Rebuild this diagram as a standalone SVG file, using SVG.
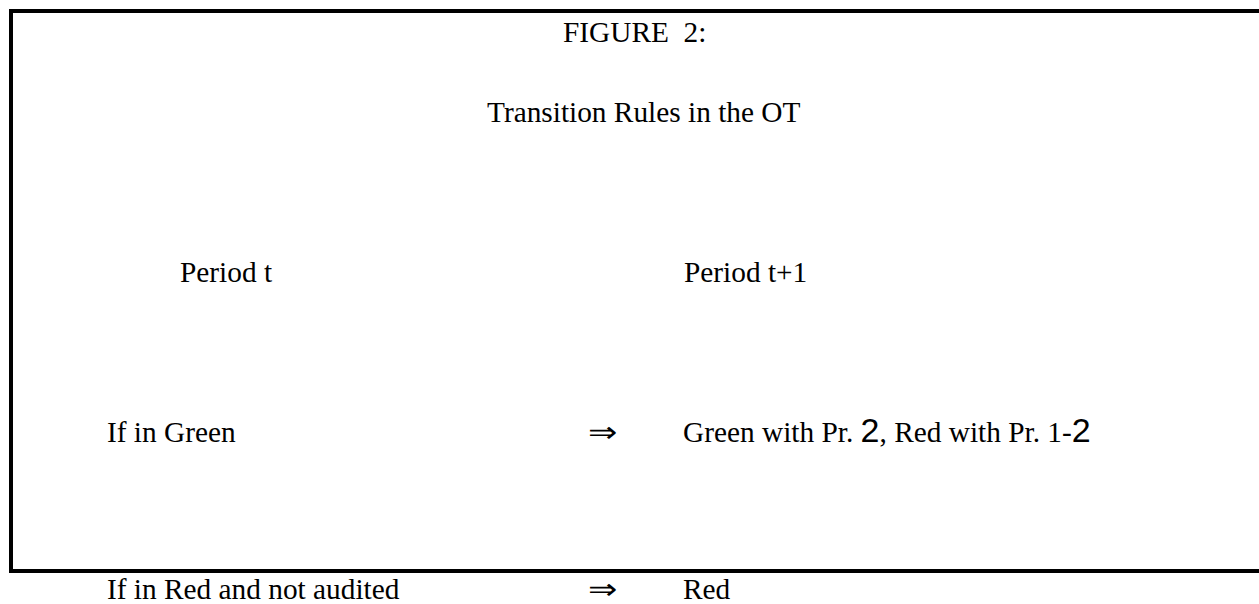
<svg xmlns="http://www.w3.org/2000/svg" width="1259" height="604" viewBox="0 0 1259 604">
<style>
.t{font-family:"Liberation Serif","Times New Roman",serif;font-size:29.33px;fill:#000}
.s{font-family:"Liberation Sans",Arial,sans-serif;font-size:34px}
.box{fill:none;stroke:#000;stroke-width:4}
</style>
<rect width="1259" height="604" fill="#fff"/>
<g id="frame"><rect class="box" x="11" y="11" width="1270" height="560"/></g>
<g id="title">
<text class="t" x="563" y="42" xml:space="preserve">FIGURE  2:</text>
<text class="t" x="487" y="122">Transition Rules in the OT</text>
</g>
<g id="headers">
<text class="t" x="180" y="282">Period t</text>
<text class="t" x="684" y="282">Period t+1</text>
</g>
<g id="row-green">
<text class="t" x="107" y="442">If in Green</text>
<text class="t" x="588" y="442" textLength="29" lengthAdjust="spacingAndGlyphs">⇒</text>
<text class="t" x="683" y="442">Green with Pr. <tspan class="s">2</tspan>, Red with Pr. 1-<tspan class="s">2</tspan></text>
</g>
<g id="row-red">
<text class="t" x="107" y="599">If in Red and not audited</text>
<text class="t" x="588" y="599" textLength="29" lengthAdjust="spacingAndGlyphs">⇒</text>
<text class="t" x="683" y="599">Red</text>
</g>
</svg>
